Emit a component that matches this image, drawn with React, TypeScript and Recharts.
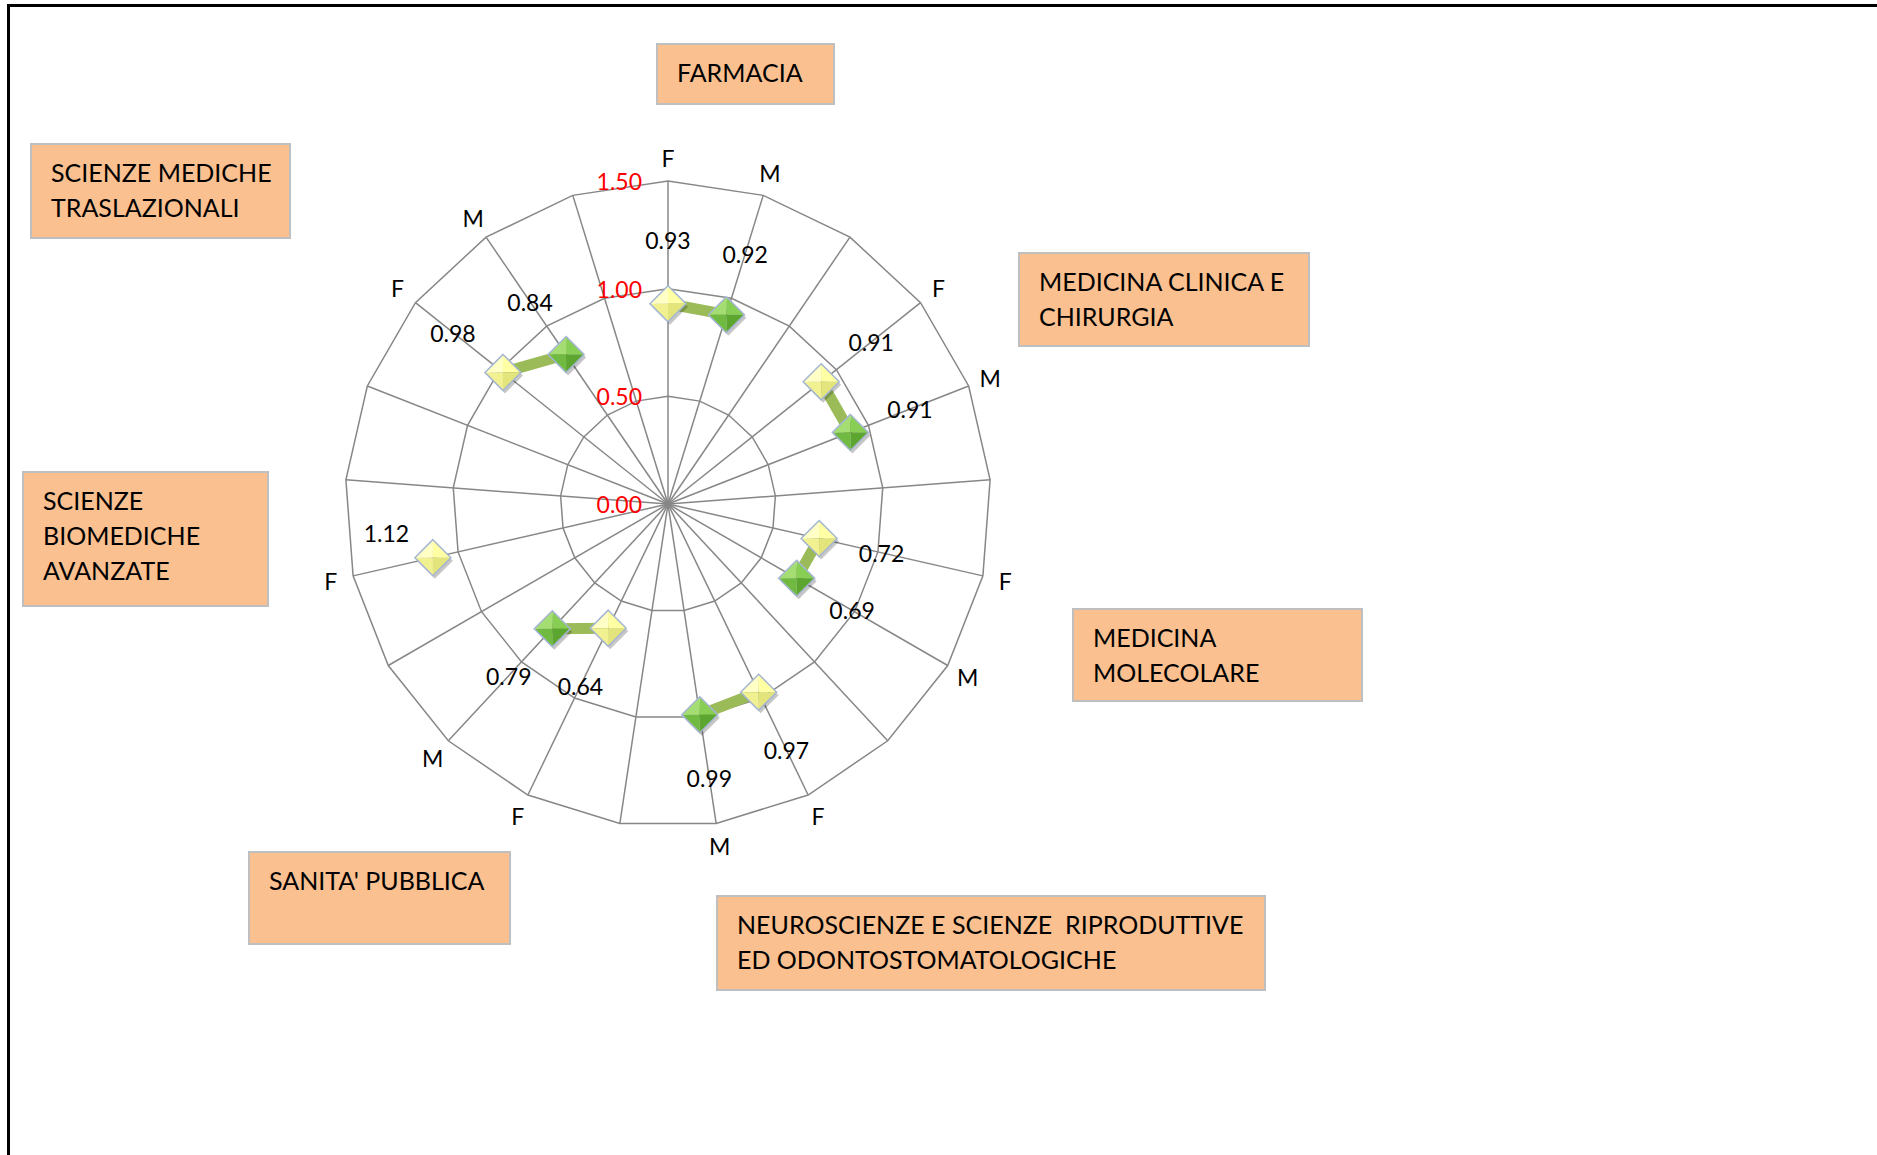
import React from "react";
import {
  RadarChart,
  Radar,
  PolarGrid,
  PolarAngleAxis,
  PolarRadiusAxis,
} from "recharts";

// 21 spokes: F / M / empty for each department, clockwise from the top
const spokeLabels = [
  "F", "M", "",
  "F", "M", "",
  "F", "M", "",
  "F", "M", "",
  "F", "M", "",
  "F", "", "",
  "F", "M", "",
];

const ratios: (number | null)[] = [
  0.93, 0.92, null,
  0.91, 0.91, null,
  0.72, 0.69, null,
  0.97, 0.99, null,
  0.64, 0.79, null,
  1.12, null, null,
  0.98, 0.84, null,
];

const radiusTicks = [0, 0.5, 1, 1.5];

const departments = [
  { name: ["FARMACIA"], left: 656, top: 43, width: 179, height: 62 },
  { name: ["MEDICINA CLINICA E", "CHIRURGIA"], left: 1018, top: 252, width: 292, height: 95 },
  { name: ["MEDICINA", "MOLECOLARE"], left: 1072, top: 608, width: 291, height: 94 },
  { name: ["NEUROSCIENZE E SCIENZE  RIPRODUTTIVE", "ED ODONTOSTOMATOLOGICHE"], left: 716, top: 895, width: 550, height: 96 },
  { name: ["SANITA' PUBBLICA"], left: 248, top: 851, width: 263, height: 94 },
  { name: ["SCIENZE", "BIOMEDICHE", "AVANZATE"], left: 22, top: 471, width: 247, height: 136 },
  { name: ["SCIENZE MEDICHE", "TRASLAZIONALI"], left: 30, top: 143, width: 261, height: 96 },
];

const spokeKeys = spokeLabels.map((_, i) => `s${i}`);
const data = spokeKeys.map((key, i) => ({
  key,
  label: spokeLabels[i],
  value: ratios[i],
}));

const FONT = "Lato, 'Open Sans', sans-serif";
const CX = 668;
const CY = 504;
const OUTER = 323;
const LABEL_GAP = 64;
// the 1.12 label was dragged up in the original so it clears the F label
const labelNudge: Record<string, [number, number]> = { s15: [16, -39] };

const AngleTick = (props: any) => {
  const { x, y, payload } = props;
  const i = spokeKeys.indexOf(payload?.value);
  const label = i >= 0 ? spokeLabels[i] : "";
  if (!label) return <g />;
  return (
    <text
      x={x}
      y={y}
      textAnchor="middle"
      dominantBaseline="central"
      fontFamily={FONT}
      fontSize={23}
      fill="#000"
    >
      {label}
    </text>
  );
};

const RadiusTick = (props: any) => {
  const { x, y, payload } = props;
  return (
    <text
      x={x - 26}
      y={y}
      textAnchor="end"
      dominantBaseline="central"
      fontFamily={FONT}
      fontSize={23}
      fill="#FF0000"
    >
      {Number(payload.value).toFixed(2)}
    </text>
  );
};

const yellow = ["#FFFFC6", "#FFFFA4", "#E4E47C", "#F1F192"];
const green = ["#A4DE72", "#88CE54", "#5CA630", "#70BA42"];

const valueOf = (p: any) => {
  const entry = p?.payload ?? p;
  return entry?.value;
};

// only join the F and M point of the same department
const renderLine = (props: any) => {
  const points: any[] = props.points || [];
  const segs: string[] = [];
  for (let i = 0; i < points.length - 1; i++) {
    const a = points[i];
    const b = points[i + 1];
    if (valueOf(a) == null || valueOf(b) == null) continue;
    segs.push(`M${a.x},${a.y}L${b.x},${b.y}`);
  }
  return (
    <path
      d={segs.join("")}
      fill="none"
      stroke="#9BBB59"
      strokeWidth={11}
    />
  );
};

const renderDot = (props: any) => {
  const { cx, cy, payload, index } = props;
  const entry = payload?.payload ?? payload;
  if (!Number.isFinite(cx) || !Number.isFinite(cy) || entry?.value == null)
    return <g key={`dot-${index}`} />;
  const colors = entry.label === "F" ? yellow : green;
  // value label sits further out along the same spoke
  const dx = cx - CX;
  const dy = cy - CY;
  const len = Math.hypot(dx, dy) || 1;
  const nudge = labelNudge[entry.key] || [0, 0];
  const lx = cx + (dx / len) * LABEL_GAP + nudge[0];
  const ly = cy + (dy / len) * LABEL_GAP + nudge[1];
  const h = 18;
  const T = `${cx},${cy - h}`;
  const R = `${cx + h},${cy}`;
  const B = `${cx},${cy + h}`;
  const L = `${cx - h},${cy}`;
  const C = `${cx},${cy}`;
  return (
    <g key={`dot-${index}`}>
      <polygon
        points={`${cx + 2},${cy - h + 3} ${cx + h + 2},${cy + 3} ${cx + 2},${cy + h + 3} ${cx - h + 2},${cy + 3}`}
        fill="rgba(0,0,0,0.22)"
      />
      <polygon points={`${L} ${T} ${C}`} fill={colors[0]} />
      <polygon points={`${T} ${R} ${C}`} fill={colors[1]} />
      <polygon points={`${R} ${B} ${C}`} fill={colors[2]} />
      <polygon points={`${B} ${L} ${C}`} fill={colors[3]} />
      <polygon
        points={`${T} ${R} ${B} ${L}`}
        fill="none"
        stroke="#A4B6D2"
        strokeWidth={1.5}
      />
      <text
        x={lx}
        y={ly}
        textAnchor="middle"
        dominantBaseline="central"
        fontFamily={FONT}
        fontSize={23}
        fill="#000"
      >
        {Number(entry.value).toFixed(2)}
      </text>
    </g>
  );
};

export default function App() {
  return (
    <div
      style={{
        position: "absolute",
        left: 0,
        top: 0,
        width: 1877,
        height: 1155,
        overflow: "hidden",
        background: "#fff",
        fontFamily: FONT,
      }}
    >
      <div
        style={{
          position: "absolute",
          left: 7,
          top: 4,
          width: 2000,
          height: 1300,
          border: "3px solid #000",
        }}
      />
      <div style={{ position: "absolute", left: 0, top: 0 }}>
        <RadarChart
          width={1877}
          height={1155}
          cx={CX}
          cy={CY}
          outerRadius={OUTER}
          startAngle={90}
          endAngle={-270}
          data={data}
        >
          <PolarGrid gridType="polygon" stroke="#878787" strokeWidth={1.5} />
          <PolarAngleAxis
            dataKey="key"
            tick={AngleTick}
            tickLine={false}
            axisLine={false}
            tickSize={23}
          />
          <PolarRadiusAxis
            angle={90}
            type="number"
            domain={[0, 1.5]}
            allowDataOverflow
            allowDecimals
            tickCount={4}
            ticks={radiusTicks as any}
            axisLine={false}
            tickLine={false}
            tick={RadiusTick}
          />
          <Radar
            dataKey="value"
            stroke="#9BBB59"
            strokeWidth={11}
            fill="none"
            fillOpacity={0}
            shape={renderLine}
            dot={renderDot}
            isAnimationActive={false}
          />
        </RadarChart>
      </div>
      {departments.map((d) => (
        <div
          key={d.name.join(" ")}
          style={{
            position: "absolute",
            left: d.left,
            top: d.top,
            width: d.width,
            height: d.height,
            boxSizing: "border-box",
            background: "#FAC090",
            border: "2px solid #BFBFBF",
            paddingTop: 10,
            paddingLeft: 19,
            fontSize: 25,
            lineHeight: "35px",
            color: "#000",
            whiteSpace: "pre",
          }}
        >
          {d.name.map((line) => (
            <div key={line}>{line}</div>
          ))}
        </div>
      ))}
    </div>
  );
}
